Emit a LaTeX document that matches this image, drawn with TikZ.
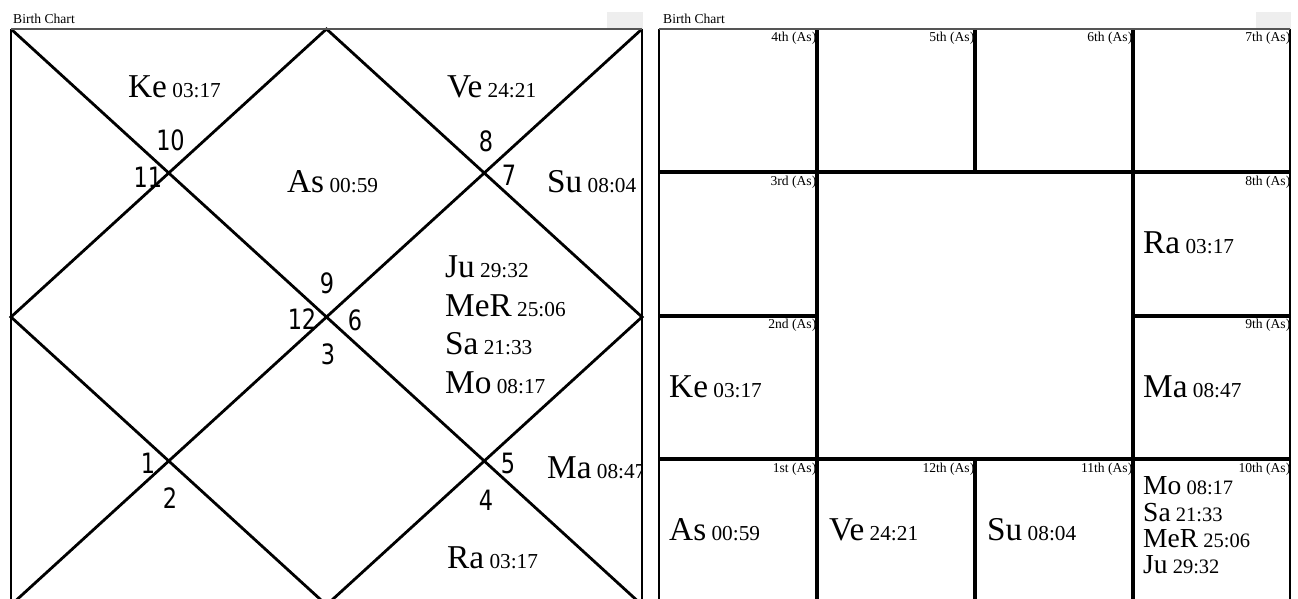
\documentclass[tikz,border=0pt]{standalone}
\usepackage{fontspec}
\setmainfont{Liberation Serif}
\newfontfamily\numfont[FakeStretch=0.8]{DejaVu Sans}
\newcommand\plnt[2]{{\fontsize{33.3}{33.3}\selectfont #1}{\fontsize{21.3}{21.3}\selectfont\ #2}}
\newcommand\plnts[2]{{\fontsize{27.5}{27.5}\selectfont #1}{\fontsize{20.5}{20.5}\selectfont\ #2}}
\begin{document}
\begin{tikzpicture}[x=1pt,y=-1pt,
  pl/.style={anchor=base west, inner sep=0pt},
  hn/.style={inner sep=0pt, font=\numfont\fontsize{28}{28}\selectfont},
  hl/.style={anchor=base east, inner sep=0pt, font=\fontsize{13.6}{13.6}\selectfont},
  ttl/.style={anchor=base west, inner sep=0pt, font=\fontsize{13.6}{13.6}\selectfont},
  chartline/.style={line width=2.8pt, black},
  cellline/.style={line width=3.2pt, black},
  border/.style={line width=1.8pt, black},
  topline/.style={line width=1.6pt, draw={rgb,255:red,85;green,85;blue,85}},
  tab/.style={fill={rgb,255:red,238;green,238;blue,238}, draw=none}]
\useasboundingbox (0,0) rectangle (1298,599);
\clip (0,0) rectangle (1298,599);

% ---------------- Left chart (North Indian) ----------------
\node[ttl] (t1) at (13,24) {Birth Chart};
\fill[tab] (607,12) rectangle (643,29);

\begin{scope}
\clip (11,29) rectangle (641,605);
\node[pl] (lke) at (128,98) {\plnt{Ke}{03:17}};
\node[pl] (lve) at (447,98) {\plnt{Ve}{24:21}};
\node[pl] (las) at (287,192) {\plnt{As}{00:59}};
\node[pl] (lsu) at (547,192) {\plnt{Su}{08:04}};
\node[pl] (lju) at (445,277) {\plnt{Ju}{29:32}};
\node[pl] (lme) at (445,316) {\plnt{MeR}{25:06}};
\node[pl] (lsa) at (445,354) {\plnt{Sa}{21:33}};
\node[pl] (lmo) at (445,393) {\plnt{Mo}{08:17}};
\node[pl] (lma) at (547,478) {\plnt{Ma}{08:47}};
\node[pl] (lra) at (447,568) {\plnt{Ra}{03:17}};
\end{scope}

\node[hn] (h10) at (170.5,140) {10};
\node[hn] (h11) at (148,177) {11};
\node[hn] (h8) at (486,141) {8};
\node[hn] (h7) at (509,175) {7};
\node[hn] (h9) at (327,283) {9};
\node[hn] (h12) at (302,319) {12};
\node[hn] (h6) at (355,320) {6};
\node[hn] (h3) at (328,354) {3};
\node[hn] (h1) at (148,463) {1};
\node[hn] (h2) at (170,498) {2};
\node[hn] (h5) at (508,463) {5};
\node[hn] (h4) at (486,500) {4};

\coordinate (TL) at (11,29);
\coordinate (TR) at (642,29);
\coordinate (BL) at (11,605);
\coordinate (BR) at (642,605);
\coordinate (TM) at (326.5,29);
\coordinate (RM) at (642,317);
\coordinate (BM) at (326.5,605);
\coordinate (LM) at (11,317);
\draw[chartline] (TL) -- (BR);
\draw[chartline] (TR) -- (BL);
\draw[chartline] (TM) -- (RM) -- (BM) -- (LM) -- cycle;
\draw[border] (TL) -- (BL);
\draw[border] (TR) -- (BR);
\draw[topline] (TL) -- (TR);

% ---------------- Right chart (South Indian) ----------------
\node[ttl] (t2) at (663,24) {Birth Chart};
\fill[tab] (1256,12) rectangle (1291,29);

\node[hl] (l4) at (816.5,42) {4th (As)};
\node[hl] (l5) at (974.5,42) {5th (As)};
\node[hl] (l6) at (1132.5,42) {6th (As)};
\node[hl] (l7) at (1290.5,42) {7th (As)};
\node[hl] (l3) at (816.5,185) {3rd (As)};
\node[hl] (l8) at (1290.5,185) {8th (As)};
\node[hl] (l2) at (816.5,328) {2nd (As)};
\node[hl] (l9) at (1290.5,328) {9th (As)};
\node[hl] (l1) at (816.5,472) {1st (As)};
\node[hl] (l12) at (974.5,472) {12th (As)};
\node[hl] (l11) at (1132.5,472) {11th (As)};
\node[hl] (l10) at (1290.5,472) {10th (As)};

\node[pl] (rra) at (1143,253) {\plnt{Ra}{03:17}};
\node[pl] (rma) at (1143,397) {\plnt{Ma}{08:47}};
\node[pl] (rke) at (669,397) {\plnt{Ke}{03:17}};
\node[pl] (ras) at (669,540) {\plnt{As}{00:59}};
\node[pl] (rve) at (829,540) {\plnt{Ve}{24:21}};
\node[pl] (rsu) at (987,540) {\plnt{Su}{08:04}};
\node[pl] (rmo) at (1143,494) {\plnts{Mo}{08:17}};
\node[pl] (rsa) at (1143,521) {\plnts{Sa}{21:33}};
\node[pl] (rme) at (1143,547) {\plnts{MeR}{25:06}};
\node[pl] (rju) at (1143,573) {\plnts{Ju}{29:32}};

\coordinate (A) at (659,29);
\coordinate (B) at (1290,29);
\coordinate (C) at (659,603);
\coordinate (D) at (1290,603);
\draw[cellline] (817,29) -- (817,603);
\draw[cellline] (1133,29) -- (1133,603);
\draw[cellline] (975,29) -- (975,172);
\draw[cellline] (975,459) -- (975,603);
\draw[cellline] (659,172) -- (1290,172);
\draw[cellline] (659,459) -- (1290,459);
\draw[cellline] (659,316) -- (817,316);
\draw[cellline] (1133,316) -- (1290,316);
\draw[border] (A) -- (C);
\draw[border] (B) -- (D);
\draw[topline] (A) -- (B);
\end{tikzpicture}
\end{document}
